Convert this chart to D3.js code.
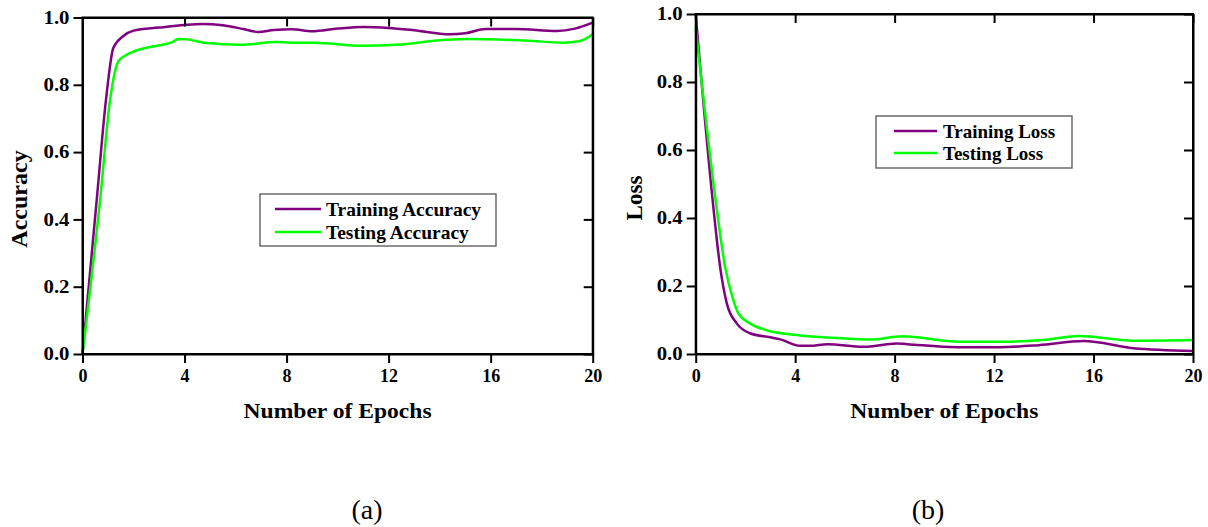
<!DOCTYPE html>
<html>
<head>
<meta charset="utf-8">
<script src="https://cdn.jsdelivr.net/npm/d3@7"></script>
<style>
  html, body { margin: 0; padding: 0; background: #fff; }
  svg { display: block; }
  text { font-family: "Liberation Serif", "Times New Roman", serif; fill: #000; }
</style>
</head>
<body>
<svg id="chart" width="1208" height="527"></svg>
<script>
// ---------- data ----------
const xTicks = [0, 4, 8, 12, 16, 20];
const yTicks = [0, 0.2, 0.4, 0.6, 0.8, 1.0];

const trainAccEpochs = [0, 0.56, 0.92, 1.21, 1.6, 2.0, 3.0, 4.0, 4.7, 5.5, 6.3, 6.9, 7.5, 8.2, 9.0, 10.0, 11.0, 12.0, 13.0, 14.4, 15.0, 15.8, 17.0, 18.6, 19.3, 20];
const trainAcc       = [0, 0.46, 0.755, 0.91, 0.945, 0.961, 0.970, 0.978, 0.981, 0.977, 0.966, 0.957, 0.963, 0.965, 0.959, 0.967, 0.972, 0.969, 0.962, 0.950, 0.953, 0.966, 0.966, 0.960, 0.967, 0.985];

const testAccEpochs = [0, 0.69, 1.08, 1.4, 1.7, 2.0, 2.5, 3.17, 3.5, 3.76, 4.08, 4.87, 6.17, 7.6, 8.53, 9.05, 11.0, 12.3, 14.3, 15.06, 17.5, 18.85, 19.5, 20];
const testAcc       = [0, 0.458, 0.755, 0.869, 0.888, 0.899, 0.910, 0.920, 0.926, 0.936, 0.935, 0.924, 0.919, 0.927, 0.925, 0.925, 0.916, 0.919, 0.934, 0.936, 0.931, 0.925, 0.930, 0.950];

const trainLossEpochs = [0, 0.68, 0.98, 1.25, 1.65, 2.18, 3.0, 3.4, 4.2, 4.6, 5.3, 6.74, 8.08, 8.5, 10.5, 12.2, 13.8, 15.6, 17.6, 20];
const trainLoss       = [1.0, 0.453, 0.257, 0.149, 0.09, 0.061, 0.049, 0.043, 0.024, 0.024, 0.029, 0.021, 0.031, 0.029, 0.020, 0.020, 0.026, 0.038, 0.017, 0.009];

const testLossEpochs = [0, 0.8, 1.18, 1.51, 1.71, 2.18, 2.85, 4.06, 5.93, 7.14, 8.3, 10.6, 12.2, 14.2, 15.4, 17.6, 20];
const testLoss       = [0.96, 0.453, 0.257, 0.159, 0.12, 0.09, 0.07, 0.056, 0.046, 0.043, 0.052, 0.036, 0.036, 0.043, 0.053, 0.039, 0.041];

const xTitle = "Number of Epochs";
const accTitle = "Accuracy";
const lossTitle = "Loss";
const accLegend = ["Training Accuracy", "Testing Accuracy"];
const lossLegend = ["Training Loss", "Testing Loss"];
const panelLabels = ["(a)", "(b)"];

// ---------- styles ----------
const TRAIN_COLOR = "#800080";
const TEST_COLOR = "#00ff00";

const svg = d3.select("#chart");

function zip(xs, ys) { return xs.map((x, i) => ({ x, y: ys[i] })); }

function drawPanel(cfg) {
  const x = d3.scaleLinear().domain([0, 20]).range([cfg.left, cfg.right]);
  const y = d3.scaleLinear().domain([0, 1]).range([cfg.bottom, cfg.top]);
  const g = svg.append("g");

  const line = d3.line().x(d => x(d.x)).y(d => y(d.y)).curve(d3.curveMonotoneX);

  // series
  g.append("path").datum(zip(cfg.trainX, cfg.trainY))
    .attr("d", line).attr("fill", "none").attr("stroke", TRAIN_COLOR).attr("stroke-width", 2.5)
    .attr("stroke-linejoin", "round");
  g.append("path").datum(zip(cfg.testX, cfg.testY))
    .attr("d", line).attr("fill", "none").attr("stroke", TEST_COLOR).attr("stroke-width", 2.5)
    .attr("stroke-linejoin", "round");

  // axes
  const tickLen = 9;
  const styleAxis = sel => {
    sel.select(".domain").attr("stroke", "#000").attr("stroke-width", 2);
    sel.selectAll(".tick line").attr("stroke", "#000").attr("stroke-width", 2);
    sel.selectAll(".tick text").attr("font-family", "Liberation Serif, serif")
      .attr("font-weight", "bold").attr("font-size", 18).attr("fill", "#000");
  };

  const bottom = g.append("g").attr("transform", `translate(0,${cfg.bottom})`)
    .call(d3.axisBottom(x).tickValues(xTicks).tickSize(tickLen).tickSizeOuter(0).tickPadding(4).tickFormat(d3.format("d")));
  styleAxis(bottom);
  bottom.selectAll(".tick text").attr("dy", "0.85em");

  const top = g.append("g").attr("transform", `translate(0,${cfg.top})`)
    .call(d3.axisBottom(x).tickValues(xTicks).tickSize(tickLen).tickSizeOuter(0).tickFormat(""));
  styleAxis(top);

  const leftAx = g.append("g").attr("transform", `translate(${cfg.left},0)`)
    .call(d3.axisLeft(y).tickValues(yTicks).tickSize(tickLen).tickSizeOuter(0).tickPadding(4).tickFormat(d3.format(".1f")));
  styleAxis(leftAx);
  leftAx.selectAll(".tick text").attr("textLength", 26).attr("lengthAdjust", "spacingAndGlyphs");

  const rightAx = g.append("g").attr("transform", `translate(${cfg.right},0)`)
    .call(d3.axisLeft(y).tickValues(yTicks).tickSize(tickLen).tickSizeOuter(0).tickFormat(""));
  styleAxis(rightAx);

  // full frame
  g.append("rect").attr("x", cfg.left).attr("y", cfg.top)
    .attr("width", cfg.right - cfg.left).attr("height", cfg.bottom - cfg.top)
    .attr("fill", "none").attr("stroke", "#000").attr("stroke-width", 2);

  // axis titles
  g.append("text").attr("x", (cfg.left + cfg.right) / 2).attr("y", 418)
    .attr("text-anchor", "middle").attr("font-weight", "bold").attr("font-size", 21)
    .attr("textLength", 188).attr("lengthAdjust", "spacingAndGlyphs")
    .text(xTitle);

  g.append("text")
    .attr("transform", `translate(${cfg.yTitleX},${cfg.yTitleY}) rotate(-90)`)
    .attr("text-anchor", "middle").attr("font-weight", "bold").attr("font-size", cfg.yTitleSize)
    .text(cfg.yTitle);

  // legend
  const L = cfg.legend;
  g.append("rect").attr("x", L.x).attr("y", L.y).attr("width", L.w).attr("height", L.h)
    .attr("fill", "#fff").attr("stroke", "#555").attr("stroke-width", 1.3);
  const colors = [TRAIN_COLOR, TEST_COLOR];
  cfg.legendItems.forEach((name, i) => {
    const yy = L.y + L.row0 + i * L.rowGap;
    g.append("line").attr("x1", L.x + L.lineX0).attr("x2", L.x + L.lineX1)
      .attr("y1", yy).attr("y2", yy).attr("stroke", colors[i]).attr("stroke-width", 2.5);
    g.append("text").attr("x", L.x + L.textX).attr("y", yy).attr("dy", "0.35em")
      .attr("font-weight", "bold").attr("font-size", L.fontSize)
      .text(name);
  });

  // panel label
  g.append("text").attr("x", cfg.labelX).attr("y", 519).attr("text-anchor", "middle")
    .attr("font-size", 28).text(cfg.label);
}

drawPanel({
  left: 82.5, right: 592.7, top: 17.5, bottom: 354,
  trainX: trainAccEpochs, trainY: trainAcc,
  testX: testAccEpochs, testY: testAcc,
  yTitle: accTitle, yTitleX: 27, yTitleY: 199, yTitleSize: 24,
  legendItems: accLegend,
  legend: { x: 260, y: 194, w: 236, h: 52, row0: 15, rowGap: 23, lineX0: 15, lineX1: 61, textX: 66, fontSize: 19.5 },
  label: panelLabels[0], labelX: 367
});

drawPanel({
  left: 695.7, right: 1193, top: 14, bottom: 354,
  trainX: trainLossEpochs, trainY: trainLoss,
  testX: testLossEpochs, testY: testLoss,
  yTitle: lossTitle, yTitleX: 642, yTitleY: 198, yTitleSize: 23,
  legendItems: lossLegend,
  legend: { x: 876, y: 116, w: 196, h: 52, row0: 15, rowGap: 22, lineX0: 18, lineX1: 61, textX: 67, fontSize: 19 },
  label: panelLabels[1], labelX: 928
});
</script>
</body>
</html>
